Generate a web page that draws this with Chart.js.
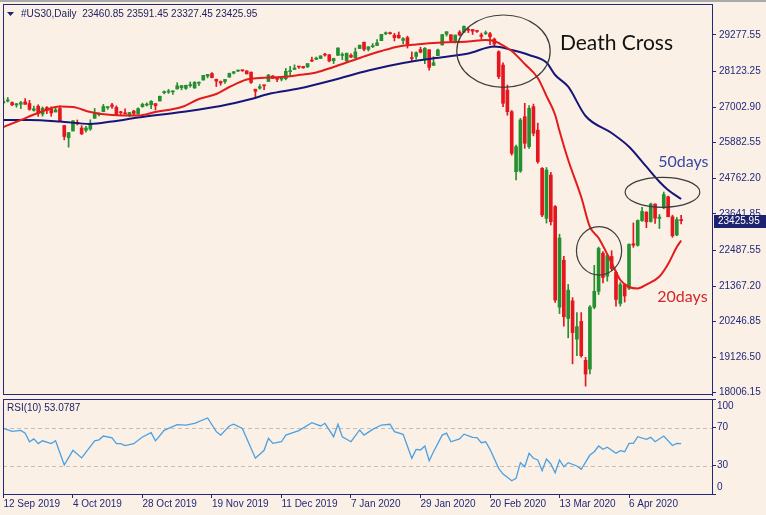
<!DOCTYPE html>
<html>
<head>
<meta charset="utf-8">
<script src="https://cdn.jsdelivr.net/npm/chart.js@4.4.1/dist/chart.umd.min.js"></script>
<style>
  html, body { margin: 0; padding: 0; }
  body { width: 766px; height: 515px; background: #faf0e6; position: relative; overflow: hidden; }
  #frameTop { position: absolute; left: 0; top: 0; width: 766px; height: 2px; background: #a9a9a9; }
  canvas { position: absolute; left: 0; }
  #price { top: 0; }
  #rsi { top: 396px; }
</style>
</head>
<body>
<div id="frameTop"></div>
<canvas id="price" width="766" height="396"></canvas>
<canvas id="rsi" width="766" height="119"></canvas>
<script>
// ---- data ----------------------------------------------------------------
const symbol = "#US30,Daily";

const dateTickIdx = [0, 16, 32, 48, 64, 80, 96, 112, 128, 144];
const dateLabels = ["12 Sep 2019", "4 Oct 2019", "28 Oct 2019", "19 Nov 2019", "11 Dec 2019",
                    "7 Jan 2020", "29 Jan 2020", "20 Feb 2020", "13 Mar 2020", "6 Apr 2020"];

const priceTicks = [18006.15, 19126.50, 20246.85, 21367.20, 22487.55, 23641.85,
                    24762.20, 25882.55, 27002.90, 28123.25, 29277.55];

const opens = [
    27137,27198,27150,27071,27096,27171,27118,26903,27034,26786,
    26993,26938,26852,26962,26425,26039,26251,26525,26348,26276,
    26314,26653,26769,26863,26987,27075,26999,26858,26824,26745,
    26881,26790,27020,27070,27080,27116,27197,27458,27479,27486,
    27579,27618,27595,27681,27611,27757,27858,27983,28062,27882,
    27810,27812,27950,28076,28141,28164,28149,28109,27569,27600,
    27678,27814,27985,27888,27885,27901,28123,28191,28269,28285,
    28272,28456,28510,28539,28676,28654,28466,28638,28634,28466,
    28639,28557,28852,29049,28826,28909,28947,29098,29317,29348,
    29270,29273,29107,29194,28542,28602,28820,28513,28813,28319,
    28626,28963,29302,29286,29050,29369,29364,29432,29451,29398,
    29279,29320,29316,29148,28750,28330,27540,26860,24970,24990,
    26703,25758,27020,26280,25075,23500,24865,23870,20700,22180,
    20345,20900,19692,20253,19028,18750,20700,21200,22400,21678,
    22300,21800,20819,21400,21300,22700,22650,23430,23700,23400,
    23950,23500,23830,24180,23550,22975,23460.85
];
const highs = [
    27306,27307,27174,27122,27186,27272,27219,27036,27080,27010,
    27024,27016,26998,27046,26425,26211,26578,26600,26422,26399,
    26605,26965,26826,27091,27026,27121,27045,26872,26953,26838,
    26902,26985,27130,27140,27209,27117,27354,27517,27563,27519,
    27775,27693,27700,27798,27811,27800,28005,28036,28091,27888,
    27829,27881,28078,28122,28174,28180,28149,28109,27569,27716,
    27700,28035,28001,27941,27938,28224,28290,28337,28292,28289,
    28377,28582,28582,28621,28701,28664,28547,28872,28716,28709,
    28685,28866,28959,29056,28907,29009,29129,29298,29374,29370,
    29332,29373,29192,29242,28745,28748,28891,28883,28814,28593,
    28832,29291,29380,29286,29276,29415,29568,29502,29451,29420,
    29339,29403,29360,29180,28780,28400,27700,26900,25810,26650,
    27125,27050,27100,26500,25100,25100,24950,23900,23000,22300,
    21416,21000,20532,20531,19121,20750,22020,22596,22450,22378,
    22480,21850,21477,21447,22700,23356,23451,23848,23705,23980,
    23960,23620,24330,24200,23600,23529,23591.45
];
const lows = [
    27126,27165,27048,27003,26957,27093,26907,26878,26714,26720,
    26799,26718,26852,26562,25974,25743,26251,26443,26136,26217,
    26272,26653,26727,26858,26934,26961,26738,26774,26788,26706,
    26757,26781,27000,27039,26958,26912,27197,27424,27437,27405,
    27573,27550,27566,27632,27591,27681,27858,27926,27924,27653,
    27694,27751,27950,28049,28124,28130,28051,27748,27325,27571,
    27558,27814,27908,27809,27830,27863,28003,28191,28225,28232,
    28253,28433,28497,28535,28608,28428,28376,28627,28501,28418,
    28565,28545,28850,28779,28773,28878,28943,29098,29285,29300,
    29089,29175,28993,28865,28440,28519,28713,28375,28169,28319,
    28626,28963,29244,29042,29023,29254,29364,29353,29293,29360,
    29146,29290,28970,28897,27900,27018,26750,25490,24708,24950,
    25706,25700,26100,25235,23550,23350,23290,20850,20500,20100,
    19735,18917,19177,19122,18214,18600,20650,21100,21469,21522,
    21850,20736,20736,20863,21250,22586,22623,23400,23207,23380,
    23338,23180,23800,23550,22900,22950,23327.45
];
const closes = [
    27182,27220,27076,27110,27147,27094,26935,26949,26807,26970,
    26891,26820,26917,26573,26079,26201,26573,26478,26164,26347,
    26497,26817,26787,27024,27001,27026,26770,26827,26788,26834,
    26806,26958,27091,27071,27186,27046,27347,27462,27492,27493,
    27675,27681,27691,27691,27784,27782,28005,28036,27934,27821,
    27766,27876,28066,28122,28164,28150,28051,27783,27502,27650,
    27677,28015,27909,27881,27911,28132,28135,28235,28268,28240,
    28377,28455,28551,28621,28645,28462,28538,28868,28634,28703,
    28583,28745,28957,28824,28907,28940,29030,29298,29348,29320,
    29196,29186,29160,28990,28535,28723,28734,28859,28256,28400,
    28807,29291,29380,29103,29276,29276,29551,29424,29398,29390,
    29232,29348,29219,28992,27964,27125,26860,25550,25758,26600,
    25865,26965,26180,25285,23605,25023,23395,20925,22880,20400,
    21237,19899,20087,19174,18592,20705,21200,22552,21637,22328,
    21917,20944,21413,21053,22680,22654,23434,23719,23390,23950,
    23504,23538,24250,23550,22950,23460,23425.95
];

// moving averages (bar index -> value)
const ma20Idx = [0,4,8,13,16,20,25,31,35,41,45,49,52,56,59,64,68,72,76,80,84,87,91,95,101,107,111,113,114,117,120,123,125,127,128,130,133,135,137,140,142,144,146,148,151,153,155,156];
const ma20Val = [26378,26599,26820,27024,27008,26851,26757,26741,26851,27008,27260,27418,27638,27875,27922,27954,28017,28096,28269,28458,28647,28773,28915,28978,29041,29072,29119,29088,29025,28773,28364,27922,27355,26757,26253,25339,24173,23228,22881,22094,21558,21337,21289,21415,21667,22061,22597,22802];

const ma50Idx = [0,6,13,20,25,31,41,50,57,61,68,76,84,92,99,107,113,117,121,125,127,130,134,140,144,148,151,153,156];
const ma50Val = [26599,26599,26552,26473,26552,26678,26851,27040,27260,27418,27591,27859,28159,28395,28543,28694,28915,28804,28647,28411,28017,27648,26725,26189,25758,25128,24655,24394,24110];

// RSI(10)
const rsiIdx = [0,2,4,5,6,7,8,9,11,12,14,16,18,21,22,23,25,26,27,28,30,32,34,35,37,38,40,42,44,47,49,50,52,53,55,58,60,61,62,64,65,68,71,73,74,76,77,78,80,82,83,85,87,89,90,92,94,95,96,97,98,99,101,102,103,105,106,108,109,110,111,112,114,115,116,117,118,119,120,121,122,123,124,125,126,127,128,129,130,132,133,135,136,137,138,139,141,142,143,144,145,146,148,149,150,152,154,155,156];
const rsiVal = [69,66,67,64,55,58,53,56,53,56,30.5,46,38,56,57,61,59,53,53,51,53,60,64.5,56,67,69,73,72.6,74.4,80,65.6,62,71.6,73.4,69,37.6,46,58.6,53.3,55,62,66.7,75,71.6,74.4,60.3,73.4,60.3,55,67.4,62,68,72.6,73.4,65.6,62.8,37.6,47,46.3,50.5,35,44.5,62,64,55,58,63,59.7,59.3,54,55,47,27,21,17.6,14,16.5,33,28.7,42.8,37.6,35.8,24.5,36.8,31.6,22.4,35.8,28.7,33,29.5,26,41,44.5,50.5,47,49.3,42.8,45.6,44.5,53.3,53.3,60.3,57.6,59.7,55,61,51,53.3,53.0787];
const rsiLevels = [30, 70];
const rsiTicks = [0, 30, 70, 100];

// ---- look ------------------------------------------------------------------
const NAVY = "#22287a";
const BULL = "#24902f";
const BEAR = "#e5161d";
const X_MIN = -0.1, X_MAX = 163.1;
const Y_MIN = 17934, Y_MAX = 30254;

const ellipses = [
    { idx: 115.1, price: 28767, rxBars: 10.75, ryPts: 1141 },
    { idx: 137.1, price: 22477, rxBars: 5.2, ryPts: 763 },
    { idx: 151.7, price: 24321, rxBars: 8.6, ryPts: 473 }
];
const notes = [
    { text: "Death Cross", idx: 128.1, price: 29025, color: "#111111", font: "21px Lato" },
    { text: "50days", idx: 150.7, price: 25285, color: "#3a47a8", font: "16px Lato" },
    { text: "20days", idx: 150.5, price: 21031, color: "#d3262a", font: "16px Lato" }
];

Chart.defaults.font.family = '"Liberation Sans", Arial, sans-serif';
Chart.defaults.font.size = 10;
Chart.defaults.color = NAVY;

const last = closes.length - 1;
const candleColor = (ctx) => closes[ctx.dataIndex] >= opens[ctx.dataIndex] ? BULL : BEAR;

// keep the plot area fixed: no room reserved for half-labels at the ends
const fixWidth = s => { s.width = 54; s.paddingTop = 0; s.paddingBottom = 0; };
const fixHeight = s => { s.height = 21; s.paddingLeft = 0; s.paddingRight = 0; };

const priceDecor = {
    id: "priceDecor",
    afterDraw(chart) {
        const { ctx, chartArea: a, scales: { x, y } } = chart;
        ctx.save();

        ctx.strokeStyle = NAVY;
        ctx.lineWidth = 1;
        ctx.strokeRect(a.left + 0.5, a.top + 0.5, a.right - a.left, a.bottom - a.top - 1);

        // annotation ellipses
        ctx.strokeStyle = "#3c3c3c";
        ctx.lineWidth = 1.2;
        ellipses.forEach(e => {
            const cx = x.getPixelForValue(e.idx);
            const cy = y.getPixelForValue(e.price);
            const rx = x.getPixelForValue(e.idx + e.rxBars) - cx;
            const ry = y.getPixelForValue(e.price - e.ryPts) - cy;
            ctx.beginPath();
            ctx.ellipse(cx, cy, rx, ry, 0, 0, Math.PI * 2);
            ctx.stroke();
        });

        ctx.textBaseline = "middle";
        ctx.textAlign = "left";
        notes.forEach(n => {
            ctx.font = n.font;
            ctx.fillStyle = n.color;
            ctx.fillText(n.text, x.getPixelForValue(n.idx), y.getPixelForValue(n.price));
        });

        // header
        ctx.fillStyle = "#1d2366";
        ctx.beginPath();
        ctx.moveTo(7, 12);
        ctx.lineTo(14, 12);
        ctx.lineTo(10.5, 16);
        ctx.closePath();
        ctx.fill();
        ctx.font = '10px "Liberation Sans"';
        const ohlc = [opens[last], highs[last], lows[last], closes[last]].map(v => v.toFixed(2)).join(" ");
        ctx.fillText(symbol + "  " + ohlc, 21, 14);

        // current price box
        const py = y.getPixelForValue(closes[last]);
        ctx.fillStyle = "#1c2270";
        ctx.fillRect(a.right + 2, Math.round(py) - 6, 54, 13);
        ctx.fillStyle = "#ffffff";
        ctx.fillText(closes[last].toFixed(2), a.right + 6, Math.round(py) + 0.5);

        ctx.restore();
    }
};

new Chart(document.getElementById("price"), {
    type: "bar",
    data: {
        datasets: [
            {
                type: "line",
                data: ma20Idx.map((v, i) => ({ x: v, y: ma20Val[i] })),
                borderColor: "#e41b1b",
                borderWidth: 2,
                pointRadius: 0,
                cubicInterpolationMode: "monotone"
            },
            {
                type: "line",
                data: ma50Idx.map((v, i) => ({ x: v, y: ma50Val[i] })),
                borderColor: "#16167a",
                borderWidth: 2,
                pointRadius: 0,
                cubicInterpolationMode: "monotone"
            },
            {
                data: opens.map((o, i) => ({ x: i, y: [o, closes[i]] })),
                backgroundColor: candleColor,
                barThickness: 3,
                minBarLength: 1,
                grouped: false
            },
            {
                data: lows.map((l, i) => ({ x: i, y: [l, highs[i]] })),
                backgroundColor: candleColor,
                barThickness: 1,
                grouped: false
            }
        ]
    },
    options: {
        responsive: false,
        animation: false,
        devicePixelRatio: 1,
        layout: { padding: { left: 3, top: 4, right: 0, bottom: 1 } },
        plugins: { legend: { display: false }, tooltip: { enabled: false } },
        scales: {
            x: { type: "linear", min: X_MIN, max: X_MAX, offset: false, display: false },
            y: {
                position: "right",
                min: Y_MIN,
                max: Y_MAX,
                afterFit: fixWidth,
                afterBuildTicks: s => { s.ticks = priceTicks.map(v => ({ value: v })); },
                ticks: { autoSkip: false, padding: 3, color: NAVY, callback: v => v.toFixed(2) },
                grid: { drawOnChartArea: false, tickLength: 4, color: NAVY },
                border: { color: NAVY }
            }
        }
    },
    plugins: [priceDecor]
});

const rsiDecor = {
    id: "rsiDecor",
    beforeDatasetsDraw(chart) {
        const { ctx, chartArea: a, scales: { y } } = chart;
        ctx.save();
        ctx.strokeStyle = "#c7bdb2";
        ctx.lineWidth = 1;
        ctx.setLineDash([4, 3]);
        rsiLevels.forEach(v => {
            const py = Math.round(y.getPixelForValue(v)) + 0.5;
            ctx.beginPath();
            ctx.moveTo(a.left, py);
            ctx.lineTo(a.right, py);
            ctx.stroke();
        });
        ctx.restore();
    },
    afterDraw(chart) {
        const { ctx, chartArea: a, scales: { y } } = chart;
        ctx.save();
        ctx.strokeStyle = NAVY;
        ctx.lineWidth = 1;
        ctx.strokeRect(a.left + 0.5, a.top + 0.5, a.right - a.left, a.bottom - a.top);

        ctx.fillStyle = NAVY;
        ctx.font = '10px "Liberation Sans"';
        ctx.textBaseline = "middle";
        rsiTicks.forEach(v => {
            const py = y.getPixelForValue(v);
            const ly = Math.min(Math.max(py, a.top + 7), a.bottom - 7);
            ctx.fillText(String(v), a.right + 5, ly);
        });
        ctx.fillStyle = "#1d2366";
        ctx.fillText("RSI(10) " + rsiVal[rsiVal.length - 1].toFixed(4), 7, a.top + 9);
        ctx.restore();
    }
};

new Chart(document.getElementById("rsi"), {
    type: "line",
    data: {
        datasets: [{
            data: rsiIdx.map((v, i) => ({ x: v, y: rsiVal[i] })),
            borderColor: "#4aa0e2",
            borderWidth: 1.3,
            pointRadius: 0,
            tension: 0
        }]
    },
    options: {
        responsive: false,
        animation: false,
        devicePixelRatio: 1,
        layout: { padding: { left: 3, top: 3, right: 0, bottom: 0 } },
        plugins: { legend: { display: false }, tooltip: { enabled: false } },
        scales: {
            x: {
                type: "linear",
                min: X_MIN,
                max: X_MAX,
                offset: false,
                afterFit: fixHeight,
                afterBuildTicks: s => { s.ticks = dateTickIdx.map(v => ({ value: v })); },
                ticks: {
                    autoSkip: false,
                    maxRotation: 0,
                    align: "start",
                    padding: 0,
                    color: NAVY,
                    callback: v => dateLabels[dateTickIdx.indexOf(v)]
                },
                grid: { drawOnChartArea: false, tickLength: 4, color: NAVY },
                border: { color: NAVY }
            },
            y: {
                position: "right",
                min: 0,
                max: 100,
                afterFit: fixWidth,
                afterBuildTicks: s => { s.ticks = rsiTicks.map(v => ({ value: v })); },
                ticks: { display: false },
                grid: { drawOnChartArea: false, tickLength: 4, color: NAVY },
                border: { color: NAVY }
            }
        }
    },
    plugins: [rsiDecor]
});
</script>
</body>
</html>
